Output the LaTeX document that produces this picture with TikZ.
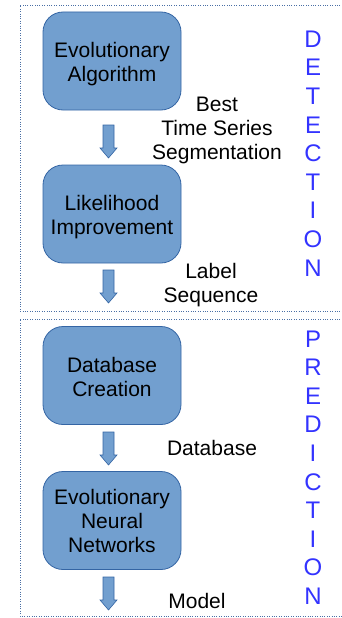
\documentclass[tikz,border=0pt]{standalone}
\usepackage{fontspec}
\setmainfont{Liberation Sans}
\definecolor{boxfill}{HTML}{729FCF}
\definecolor{boxline}{HTML}{3465A4}
\definecolor{lettercol}{HTML}{3333FF}
\definecolor{dotcol}{HTML}{4A6FA5}
\begin{document}
\begin{tikzpicture}[x=1pt,y=-1pt,
  proc/.style={draw=boxline, fill=boxfill, rounded corners=20pt, minimum width=138pt,
    minimum height=98pt, inner sep=0pt, line width=0.8pt},
  lbl/.style={align=center, inner sep=0pt, font=\fontsize{21}{24}\selectfont},
  vert/.style={align=center, inner sep=0pt, text=lettercol, font=\fontsize{24}{28.6}\selectfont},
  frame/.style={draw=dotcol, line width=0.8pt, dash pattern=on 0.8pt off 1.6pt},
  barrow/.pic={\draw[draw=boxline, fill=boxfill, line width=0.6pt]
    (-5.5,0) -- (5.5,0) -- (5.5,23) -- (8.5,23) -- (0,33) -- (-8.5,23) -- (-5.5,23) -- cycle;}
]
\useasboundingbox (0,0) rectangle (341,618);
% frames
\draw[frame] (345,5) -- (20,5) -- (20,311) -- (345,311);
\draw[frame] (345,319) -- (20,319) -- (20,616) -- (345,616);
% process boxes
\node[proc] (ea)  at (112,61)    {};
\node[proc] (li)  at (112,214)   {};
\node[proc] (dc)  at (112,375.5) {};
\node[proc] (enn) at (112,520.5) {};
\node[lbl] (eat)  at ([yshift=-3pt]ea.center)   {Evolutionary\\Algorithm};
\node[lbl] (lit)  at ([yshift=-3pt]li.center)   {Likelihood\\Improvement};
\node[lbl] (dct)  at ([yshift=-1.5pt]dc.center) {Database\\Creation};
\node[lbl] (ennt) at (enn.center)               {Evolutionary\\Neural\\Networks};
% block arrows
\pic at (108.5,125) {barrow};
\pic at (108.5,270) {barrow};
\pic at (108.5,432) {barrow};
\pic at (108.5,577) {barrow};
% labels
\node[lbl] (bts) at (217,130)   {Best\\Time Series\\Segmentation};
\node[lbl] (ls)  at (211,285)   {Label\\Sequence};
\node[lbl] (db)  at (212,447.5) {Database};
\node[lbl] (mo)  at (197,600.5) {Model};
% vertical words
\node[vert] (det) at (313,153.5) {D\\E\\T\\E\\C\\T\\I\\O\\N};
\node[vert] (pre) at (313,467.5) {P\\R\\E\\D\\I\\C\\T\\I\\O\\N};
\end{tikzpicture}
\end{document}
